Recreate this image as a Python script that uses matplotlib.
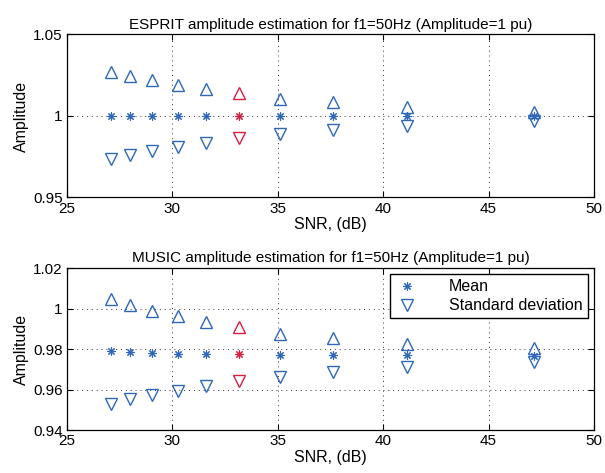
import numpy as np
import matplotlib
matplotlib.use("Agg")
import matplotlib.pyplot as plt
from matplotlib.lines import Line2D

plt.rcParams['font.family'] = ['Liberation Sans', 'DejaVu Sans']
plt.rcParams['font.size'] = 10

# SNR values (dB)
snr = [27.1, 28.0, 29.05, 30.25, 31.6, 33.15, 35.1, 37.6, 41.15, 47.15]

# ESPRIT
esprit_mean = [1.000, 1.000, 1.000, 1.000, 1.000, 1.000, 1.000, 1.000, 1.000, 1.000]
esprit_up = [1.0271, 1.0244, 1.0220, 1.0191, 1.0167, 1.0138, 1.0107, 1.0083, 1.0056, 1.0026]
esprit_down = [0.9733, 0.9758, 0.9784, 0.9811, 0.9835, 0.9862, 0.9887, 0.9913, 0.9938, 0.9970]

# MUSIC
music_mean = [0.9789, 0.9784, 0.9781, 0.9777, 0.9774, 0.9773, 0.9770, 0.9770, 0.9768, 0.9765]
music_up = [1.0045, 1.0019, 0.9990, 0.9962, 0.9934, 0.9908, 0.9876, 0.9852, 0.9825, 0.9803]
music_down = [0.9530, 0.9551, 0.9571, 0.9595, 0.9617, 0.9641, 0.9662, 0.9687, 0.9712, 0.9737]

highlight = 5  # point drawn in red
blue = '#2f67bd'
red = '#d5203f'
asterisk = (8, 2, 0)


def draw(ax, mean, up, down, title, ylim, yticks, ylabels):
    for i in range(len(snr)):
        c = red if i == highlight else blue
        ax.plot(snr[i], mean[i], linestyle='none', marker=asterisk, color=c,
                markersize=6, markeredgewidth=0.8)
        ax.plot(snr[i], up[i], linestyle='none', marker='^', markerfacecolor='none',
                markeredgecolor=c, markersize=8, markeredgewidth=1.0)
        ax.plot(snr[i], down[i], linestyle='none', marker='v', markerfacecolor='none',
                markeredgecolor=c, markersize=8, markeredgewidth=1.0)
    ax.set_xlim(25, 50)
    ax.set_xticks([25, 30, 35, 40, 45, 50])
    ax.set_ylim(*ylim)
    ax.set_yticks(yticks)
    ax.set_yticklabels(ylabels)
    ax.grid(True, linestyle=(0, (1, 4)), color='#333333', linewidth=0.7)
    ax.tick_params(direction='in', length=4, labelsize=11, pad=3, top=True, right=True,
                   labeltop=False, labelright=False)
    ax.set_title(title, fontsize=11, pad=4)
    ax.set_xlabel('SNR, (dB)', fontsize=11.5, labelpad=1)
    ax.set_ylabel('Amplitude', fontsize=11.5, labelpad=3)
    for s in ax.spines.values():
        s.set_linewidth(0.9)


fig = plt.figure(figsize=(6.05, 4.73), dpi=100)
ax1 = fig.add_axes([0.1107, 0.5825, 0.871, 0.3446])
ax2 = fig.add_axes([0.1107, 0.0909, 0.871, 0.3425])

draw(ax1, esprit_mean, esprit_up, esprit_down,
     'ESPRIT amplitude estimation for f1=50Hz (Amplitude=1 pu)',
     (0.95, 1.05), [0.95, 1.0, 1.05], ['0.95', '1', '1.05'])
draw(ax2, music_mean, music_up, music_down,
     'MUSIC amplitude estimation for f1=50Hz (Amplitude=1 pu)',
     (0.94, 1.02), [0.94, 0.96, 0.98, 1.0, 1.02], ['0.94', '0.96', '0.98', '1', '1.02'])

handles = [
    Line2D([], [], linestyle='none', marker=asterisk, color=blue, markersize=6,
           markeredgewidth=0.8),
    Line2D([], [], linestyle='none', marker='v', markerfacecolor='none',
           markeredgecolor=blue, markersize=8),
]
leg = ax2.legend(handles, ['Mean', 'Standard deviation'], loc='upper right',
                 fontsize=11.5, fancybox=False, framealpha=1, edgecolor='black',
                 borderaxespad=0.4, handlelength=1.5, handletextpad=1.9,
                 borderpad=0.3, labelspacing=0.25)
leg.get_frame().set_linewidth(1.0)

fig.savefig('out.png', dpi=100)
